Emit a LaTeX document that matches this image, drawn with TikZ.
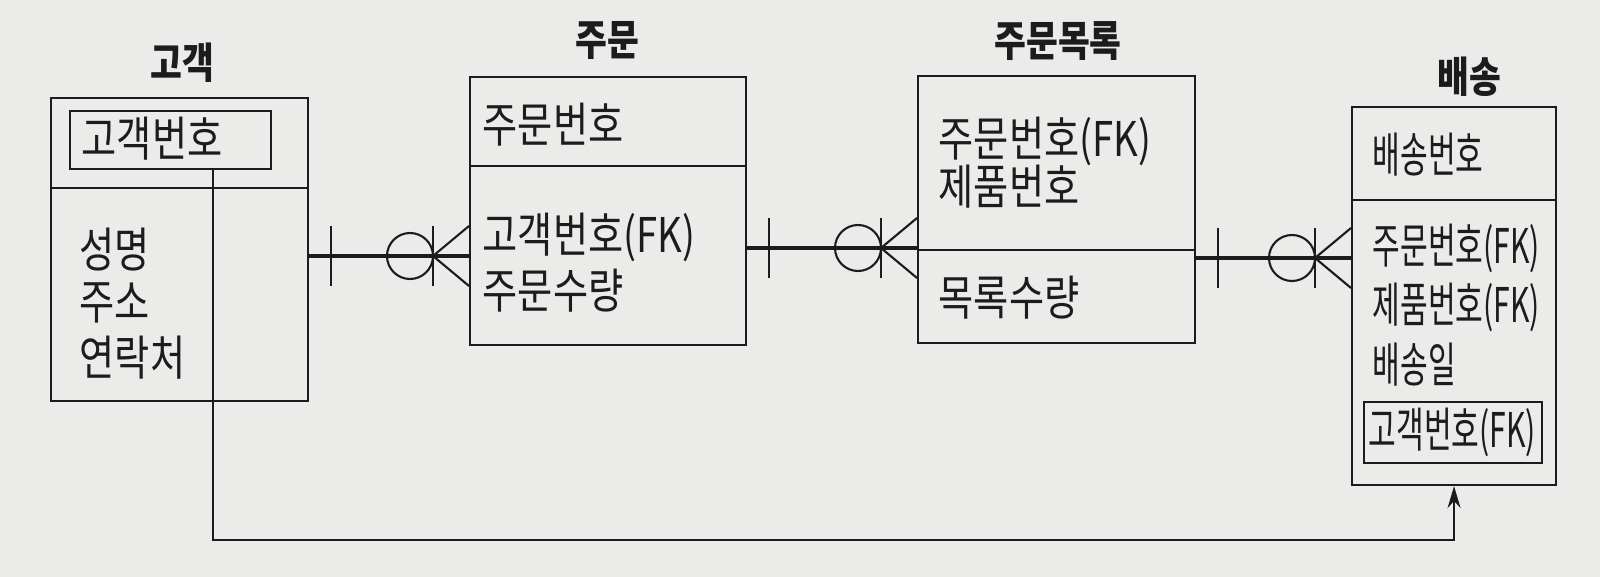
\documentclass[tikz,border=0pt]{standalone}
\usepackage{fontspec}
\setmainfont{Noto Sans CJK KR}[FakeStretch=0.8]
\newfontfamily\narrowkor{Noto Sans CJK KR}[FakeStretch=0.63]
\newfontfamily\titlekor{Noto Sans CJK KR}[FakeStretch=0.82]
\usetikzlibrary{calc,arrows.meta}
\definecolor{paper}{HTML}{EBEBEA}
\definecolor{ink}{HTML}{1C1C1C}

\tikzset{
  entity/.style={draw=ink,line width=0.6pt,anchor=north west,inner sep=0pt},
  keybox/.style={entity},
  etitle/.style={text=ink,inner sep=0pt,font=\titlekor\bfseries\fontsize{12}{14}\selectfont},
  attr/.style={anchor=west,inner sep=0pt,text=ink,font=\fontsize{13.6}{15}\selectfont},
  nattr/.style={attr,font=\narrowkor\fontsize{13.6}{15}\selectfont},
  divider/.style={draw=ink,line width=0.6pt},
  relline/.style={draw=ink,line width=0.9pt},
  relmark/.style={draw=ink,line width=0.6pt},
  fkline/.style={draw=ink,line width=0.6pt}
}

\begin{document}
\begin{tikzpicture}[x=0.1mm,y=-0.1mm,>={Stealth[length=2.2mm,width=1.3mm]}]
    \fill[paper] (0,0) rectangle (1600,577);
    \useasboundingbox (0,0) rectangle (1600,577);

    % entity boxes
    \node[entity,minimum width=25.7mm,minimum height=30.3mm] (gogaek) at (50,97) {};
    \node[entity,minimum width=27.6mm,minimum height=26.8mm] (jumun) at (469,76) {};
    \node[entity,minimum width=27.7mm,minimum height=26.7mm] (mokrok) at (917,75) {};
    \node[entity,minimum width=20.4mm,minimum height=37.8mm] (baesong) at (1351,106) {};

    \node[etitle] (gogaekT) at (182,63) {고객};
    \node[etitle] (jumunT) at (607,41) {주문};
    \node[etitle] (mokrokT) at (1058,41) {주문목록};
    \node[etitle] (baesongT) at (1469,77) {배송};

    \foreach \e/\y in {gogaek/188,jumun/166,mokrok/250,baesong/200}{
        \draw[divider] (\e.west |- 0,\y) -- (\e.east |- 0,\y);
    }

    % key boxes
    \node[keybox,minimum width=20.1mm,minimum height=5.8mm] (gkey) at (69,110) {};
    \node[keybox,minimum width=17.8mm,minimum height=6.1mm] (bkey) at (1363,401) {};

    % attributes
    \node[attr] (gno) at (81,139) {고객번호};
    \foreach \t/\y in {성명/250,주소/303,연락처/358}{
        \node[attr] at (79,\y) {\t};
    }
    \foreach \t/\y in {주문번호/125,고객번호(FK)/237,주문수량/291}{
        \node[attr] at (482,\y) {\t};
    }
    \foreach \t/\y in {주문번호(FK)/141,제품번호/187,목록수량/298}{
        \node[attr] at (938,\y) {\t};
    }
    \foreach \t/\y in {배송번호/155,주문번호(FK)/248,제품번호(FK)/307,배송일/365}{
        \node[nattr] at (1372,\y) {\t};
    }
    \node[nattr] (bno) at (1368,432) {고객번호(FK)};

    % relationships: one ... zero or many
    \foreach \a/\b/\y in {gogaek/jumun/256,jumun/mokrok/248,mokrok/baesong/258}{
        \coordinate (s) at (\a.east |- 0,\y);
        \coordinate (t) at (\b.west |- 0,\y);
        \draw[relline] (s) -- (t);
        \draw[relmark] ($(s)+(22,-30)$) -- ($(s)+(22,30)$);
        \draw[relmark] ($(t)+(-59,0)$) circle (2.3mm);
        \draw[relmark] ($(t)+(-36,-30)$) -- ($(t)+(-36,30)$);
        \draw[relmark] ($(t)+(0,-30)$) -- ($(t)+(-36,0)$) -- ($(t)+(0,30)$);
    }

    % foreign key reference
    \coordinate (gsrc) at ($(gkey.south west)!0.71!(gkey.south east)$);
    \draw[fkline,->] (gsrc) -- (gsrc |- 0,540) -| (baesong.south);
\end{tikzpicture}
\end{document}
